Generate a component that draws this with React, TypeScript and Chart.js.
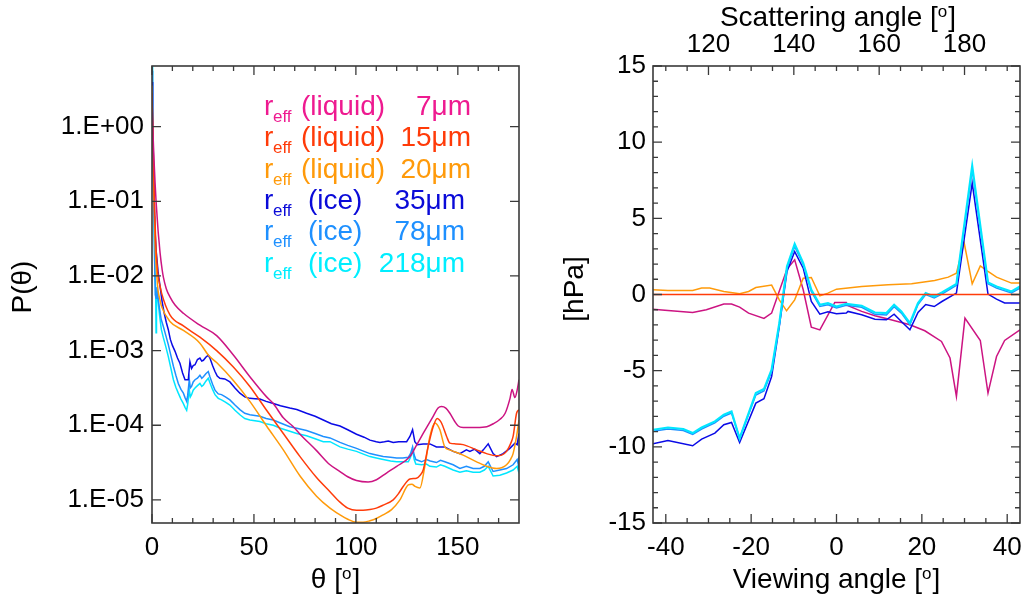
import React, { useEffect, useRef } from 'react';
import { Chart, registerables } from 'chart.js';

Chart.register(...registerables);

const FONT = "'Liberation Sans', Arial, Helvetica, sans-serif";

// ---------------- Left panel: phase function P(theta), log10 values ----------------
const liq7Theta = [0, 0.5, 1, 1.5, 2, 2.5, 3, 3.5, 4, 5, 5.6, 7, 8.8, 11.3, 15.4, 23.5, 31.7, 39.9, 48, 56.2, 59.5, 64.4, 69.3, 72.6, 80.7, 87.3, 92.2, 96, 100.3, 106, 110.1, 115, 120, 126.5, 129.7, 133, 137.9, 140.3, 142, 144.1, 146.1, 148.5, 150.2, 152.6, 159.2, 164.2, 167.4, 170.7, 173.2, 175.6, 176.6, 178, 179.1, 180];
const liq7LogP = [0.2, -0.1, -0.45, -0.75, -1.0, -1.2, -1.4, -1.55, -1.7, -1.92, -2.02, -2.17, -2.28, -2.39, -2.5, -2.66, -2.8, -3.06, -3.35, -3.62, -3.71, -3.9, -4.02, -4.12, -4.34, -4.53, -4.62, -4.69, -4.74, -4.76, -4.73, -4.64, -4.55, -4.42, -4.27, -4.11, -3.88, -3.77, -3.75, -3.77, -3.84, -3.95, -4.01, -4.03, -4.03, -4.02, -3.98, -3.92, -3.84, -3.64, -3.52, -3.63, -3.53, -3.39];

const liq15Theta = [0, 0.5, 1, 1.5, 2, 2.5, 3, 4, 4.7, 8.8, 15.4, 23.5, 31.7, 39.9, 48, 56.2, 64.4, 72.6, 80.7, 87.3, 92.2, 96, 100.3, 103.5, 106.9, 110, 113.4, 118.3, 120.8, 123.2, 126.5, 129.7, 131.5, 133, 135.4, 137.9, 139.9, 141, 142, 144.5, 146.1, 149, 152.6, 159.2, 164.1, 169, 171.5, 173.9, 176, 177.1, 178.8, 180];
const liq15LogP = [0.45, -0.2, -0.8, -1.3, -1.65, -1.85, -2.0, -2.14, -2.23, -2.52, -2.67, -2.82, -3.0, -3.22, -3.48, -3.8, -4.11, -4.42, -4.7, -4.89, -5.03, -5.11, -5.14, -5.14, -5.13, -5.11, -5.07, -5.0, -4.92, -4.82, -4.72, -4.71, -4.67, -4.6, -4.29, -4.02, -3.91, -3.93, -3.97, -4.15, -4.24, -4.25, -4.26, -4.33, -4.38, -4.41, -4.4, -4.35, -4.24, -4.15, -3.84, -3.79];

const liq20Theta = [0, 0.5, 1, 1.5, 2, 2.5, 3, 4, 4.7, 8.8, 15.4, 23.5, 27.6, 31.7, 39.9, 48, 56.2, 64.4, 72.6, 80.7, 87.3, 92.2, 96, 100.3, 103.5, 106.9, 110, 113.4, 117.5, 121.6, 125.7, 127.5, 129, 131.4, 133.8, 136.3, 138.7, 139.8, 141.2, 143.6, 146.1, 152.6, 159.2, 164.1, 169, 171.5, 173.9, 176, 177.1, 178.8, 180];
const liq20LogP = [0.55, -0.3, -1.0, -1.55, -1.85, -2.05, -2.2, -2.33, -2.41, -2.61, -2.73, -2.9, -3.06, -3.16, -3.4, -3.68, -4.01, -4.33, -4.68, -4.95, -5.11, -5.2, -5.26, -5.3, -5.3, -5.28, -5.25, -5.2, -5.13, -5.0, -4.8, -4.79, -4.82, -4.84, -4.55, -4.15, -3.97, -3.99, -4.06, -4.29, -4.33, -4.4, -4.49, -4.55, -4.58, -4.57, -4.53, -4.45, -4.38, -4.15, -3.93];

const ice35Theta = [0, 0.3, 0.7, 1.0, 1.5, 2, 2.5, 3, 4, 5, 6, 7, 8, 9, 10, 11.3, 12.5, 13.7, 15, 16.2, 17.8, 18.6, 19.4, 20.2, 21.1, 22.3, 23.5, 24.4, 25.2, 26.4, 27.6, 28.4, 29.7, 30.9, 32, 33.3, 35.7, 38.2, 40.7, 43.1, 45.5, 48, 50.5, 52.9, 56, 59.5, 63, 67.6, 71, 75.8, 80, 84, 88, 92.2, 96, 100.3, 104, 106.9, 110, 111.8, 114, 115.9, 118.3, 121, 124.9, 126.5, 127.8, 128.9, 130.1, 133, 136.3, 139.5, 143.6, 147.7, 151, 154.2, 155.9, 158.3, 160.8, 162.5, 164.9, 167.3, 169, 172.2, 175.5, 178, 179.1, 180];
const ice35LogP = [0.6, 0.2, -0.45, -0.9, -1.4, -1.65, -1.8, -1.95, -2.15, -2.35, -2.5, -2.62, -2.72, -2.85, -2.93, -3.01, -3.1, -3.17, -3.3, -3.39, -3.39, -3.15, -3.24, -3.2, -3.19, -3.12, -3.1, -3.14, -3.13, -3.09, -3.06, -3.1, -3.2, -3.28, -3.34, -3.37, -3.38, -3.42, -3.5, -3.57, -3.62, -3.64, -3.645, -3.65, -3.68, -3.71, -3.74, -3.77, -3.79, -3.84, -3.88, -3.93, -3.98, -4.01, -4.06, -4.12, -4.16, -4.2, -4.22, -4.23, -4.22, -4.21, -4.23, -4.22, -4.22, -4.15, -4.06, -4.22, -4.26, -4.25, -4.25, -4.29, -4.29, -4.35, -4.38, -4.33, -4.35, -4.32, -4.38, -4.33, -4.25, -4.38, -4.42, -4.38, -4.31, -4.24, -4.26, -4.11];

const ice78Theta = [0, 0.3, 0.6, 1.0, 1.3, 1.6, 2.0, 2.4, 2.8, 3.5, 4.5, 5.6, 6.8, 8.0, 9.3, 10.5, 11.7, 12.9, 14.2, 15.4, 16.2, 17.0, 17.5, 18.3, 18.8, 19.4, 20.2, 21.1, 22.3, 23.5, 24.4, 25.2, 26.4, 27.6, 28.4, 29.7, 30.9, 32.5, 34.1, 36, 38.2, 40.7, 43.1, 45.5, 48, 52.9, 56, 59.5, 63, 67.6, 71, 75.8, 80, 84, 87.3, 92.2, 96, 100.3, 104, 106.9, 110, 113.4, 117, 120, 123, 125.7, 126.8, 127.8, 128.6, 129.4, 132.2, 134.6, 136.5, 139.5, 141.5, 143.6, 147.7, 151, 154.2, 157.5, 160.8, 163, 164.9, 167.3, 170.6, 173.9, 177.1, 179.1, 179.6, 180];
const ice78LogP = [0.75, 0.3, -0.4, -1.2, -1.8, -2.25, -2.3, -2.15, -2.25, -2.4, -2.58, -2.68, -2.8, -2.92, -3.07, -3.21, -3.33, -3.44, -3.52, -3.57, -3.63, -3.68, -3.6, -3.39, -3.5, -3.48, -3.42, -3.39, -3.37, -3.33, -3.37, -3.35, -3.31, -3.28, -3.35, -3.45, -3.53, -3.58, -3.59, -3.62, -3.66, -3.73, -3.79, -3.84, -3.86, -3.88, -3.91, -3.93, -3.97, -4.02, -4.04, -4.07, -4.11, -4.15, -4.17, -4.23, -4.27, -4.31, -4.35, -4.38, -4.4, -4.42, -4.43, -4.44, -4.44, -4.43, -4.38, -4.29, -4.4, -4.46, -4.49, -4.46, -4.48, -4.5, -4.47, -4.49, -4.53, -4.58, -4.55, -4.58, -4.58, -4.55, -4.49, -4.62, -4.6, -4.58, -4.53, -4.46, -4.52, -4.42];

const ice218Theta = [0, 0.3, 0.6, 1.0, 1.4, 1.8, 2.0, 2.2, 2.6, 3.0, 3.8, 4.6, 5.6, 6.8, 8.0, 9.3, 10.5, 11.7, 12.9, 14.2, 15.4, 16.2, 17.0, 17.5, 18.3, 18.8, 19.4, 20.2, 21.1, 22.3, 23.5, 24.4, 25.2, 26.4, 27.6, 28.4, 29.7, 30.9, 32.5, 34.1, 36, 38.2, 40.7, 43.1, 45.5, 48, 52.9, 56, 59.5, 63, 67.6, 71, 75.8, 80, 84, 87.3, 92.2, 96, 100.3, 104, 106.9, 110, 113.4, 117, 120, 123, 125.7, 126.8, 127.8, 128.6, 129.4, 132.2, 134.6, 136.3, 139.5, 141.5, 143.6, 147.7, 151, 154.2, 157.5, 160.8, 163, 164.9, 167.3, 170.6, 173.9, 177.1, 179.1, 179.6, 180];
const ice218LogP = [0.85, 0.2, -0.6, -1.3, -1.9, -2.2, -2.76, -2.3, -2.2, -2.35, -2.55, -2.72, -2.83, -2.95, -3.08, -3.24, -3.39, -3.49, -3.57, -3.65, -3.71, -3.76, -3.8, -3.72, -3.53, -3.62, -3.59, -3.53, -3.5, -3.47, -3.44, -3.48, -3.46, -3.41, -3.37, -3.43, -3.52, -3.59, -3.64, -3.66, -3.69, -3.73, -3.8, -3.86, -3.91, -3.93, -3.95, -3.98, -4.0, -4.04, -4.08, -4.11, -4.14, -4.18, -4.22, -4.22, -4.29, -4.32, -4.35, -4.39, -4.42, -4.44, -4.46, -4.48, -4.49, -4.49, -4.49, -4.43, -4.33, -4.46, -4.52, -4.53, -4.52, -4.55, -4.56, -4.53, -4.55, -4.6, -4.63, -4.61, -4.63, -4.63, -4.6, -4.55, -4.68, -4.67, -4.64, -4.6, -4.55, -4.6, -4.49];

// ---------------- Right panel: difference [hPa] vs viewing angle ----------------
const liq7View = [-43, -39.5, -33.7, -30.5, -26.4, -24.6, -22.7, -20.6, -17.0, -15.2, -11.6, -9.8, -7.8, -5.9, -3.9, -0.4, 2.3, 2.7, 5.9, 9.0, 12.1, 15.2, 17.2, 20.7, 24.6, 26.6, 28.1, 30.1, 33.7, 35.5, 37.5, 39.4, 43];
const liq7Diff = [-0.96, -1.05, -1.18, -1.0, -0.63, -0.63, -0.83, -1.22, -1.57, -1.22, 1.67, 2.28, 0.31, -2.14, -2.32, -0.52, -0.52, -0.74, -1.11, -1.4, -1.61, -1.84, -1.99, -2.38, -3.08, -4.17, -6.69, -1.55, -3.02, -6.47, -4.07, -3.02, -2.32];

const liq15View = [-43, -20, 0, 20, 43];
const liq15Diff = [0, 0, 0, 0, 0];

const liq20View = [-43, -39.5, -33.7, -31.6, -29.7, -26.4, -22.7, -20.6, -18.9, -15.2, -13.4, -11.7, -9.8, -7.8, -5.9, -3.9, -2.0, 0, 5.9, 12.1, 17.6, 23.0, 26.2, 28.1, 29.9, 31.8, 33.7, 35.5, 37.5, 41.0, 43];
const liq20Diff = [0.31, 0.26, 0.26, 0.42, 0.42, 0.2, 0.05, 0.2, 0.46, 0.62, -0.35, -1.07, -0.35, 1.07, 1.12, -0.09, 0.09, 0.35, 0.52, 0.64, 0.7, 0.92, 1.14, 1.4, 3.41, 0.7, 1.88, 1.51, 1.14, 0.75, 0.75];

const ice35View = [-43, -39.5, -33.7, -31.6, -28.5, -26.4, -24.6, -22.7, -18.9, -17.0, -15.2, -13.4, -11.6, -9.8, -7.8, -5.9, -3.9, -2.0, 0, 2.3, 2.7, 5.9, 9.0, 11.7, 13.5, 15.2, 17.2, 19.1, 20.9, 22.9, 24.7, 28.1, 31.8, 35.5, 37.5, 39.4, 43];
const ice35Diff = [-9.8, -9.58, -9.93, -9.49, -9.1, -8.55, -8.4, -9.71, -7.13, -6.84, -5.38, -2.1, 1.51, 2.82, 1.73, -0.46, -1.29, -1.14, -1.27, -1.22, -1.11, -1.33, -1.62, -1.66, -1.29, -1.77, -2.32, -1.18, -0.66, -0.79, -0.46, 0.09, 7.31, 0.03, -0.3, -0.56, -0.56];

const ice78View = [-43, -39.5, -35.9, -33.7, -31.6, -28.5, -26.4, -24.6, -22.7, -18.9, -17.0, -15.2, -13.4, -11.6, -9.8, -7.8, -5.9, -3.9, -2.0, 0, 2.3, 5.9, 9.0, 11.7, 13.5, 15.2, 17.2, 19.1, 20.9, 22.9, 24.7, 28.1, 31.8, 35.5, 37.5, 41.0, 43];
const ice78Diff = [-8.98, -8.83, -8.93, -9.18, -8.83, -8.43, -7.99, -7.78, -9.42, -6.6, -6.33, -5.05, -1.98, 1.7, 3.15, 1.95, 0.2, -0.78, -0.67, -0.89, -0.71, -0.84, -1.3, -1.34, -0.8, -1.22, -1.98, -0.66, -0.01, -0.23, 0.03, 0.6, 8.2, 0.7, 0.42, 0.1, 0.42];

const ice218View = [-43, -39.5, -35.9, -33.7, -31.6, -28.5, -26.4, -24.6, -22.7, -18.9, -17.0, -15.2, -13.4, -11.6, -9.8, -7.8, -5.9, -3.9, -2.0, 0, 2.3, 5.9, 9.0, 11.7, 13.5, 15.2, 17.2, 19.1, 20.9, 22.9, 24.7, 28.1, 31.8, 35.5, 37.5, 41.0, 43];
const ice218Diff = [-8.88, -8.73, -8.83, -9.1, -8.73, -8.33, -7.89, -7.68, -9.45, -6.47, -6.21, -4.94, -1.88, 1.84, 3.31, 2.06, 0.31, -0.68, -0.57, -0.79, -0.61, -0.74, -1.18, -1.22, -0.68, -1.11, -1.88, -0.56, 0.09, -0.13, 0.13, 0.7, 8.44, 0.79, 0.52, 0.2, 0.52];

// ---------------- Labels, ticks, colours ----------------
const LEGEND_KIND = ['(liquid)', '(liquid)', '(liquid)', '(ice)', '(ice)', '(ice)'];
const LEGEND_SIZE = ['7μm', '15μm', '20μm', '35μm', '78μm', '218μm'];
const LINE_COLORS = ['#cc1482', '#ff3c0a', '#ff9a0a', '#0a0ae6', '#1e90ff', '#00e6ff'];
const TEXT_COLORS = ['#ee1a90', '#ff3a08', '#ff9a0a', '#0a0ad8', '#1e90ff', '#00eeff'];

const LEFT_X_TICKS = [0, 50, 100, 150];
const LEFT_Y_TICKS = [1e-5, 1e-4, 1e-3, 1e-2, 1e-1, 1];
const RIGHT_X_TICKS = [-40, -20, 0, 20, 40];
const RIGHT_TOP_TICKS = [120, 140, 160, 180];
const RIGHT_Y_TICKS = [-15, -10, -5, 0, 5, 10, 15];

const range = (a: number, b: number, s: number) => {
  const out: number[] = [];
  for (let v = a; v <= b + 1e-9; v += s) out.push(Math.round(v * 1000) / 1000);
  return out;
};

type TickSpec = { id: string; side: 'top' | 'bottom' | 'left' | 'right'; major: number[]; minor: number[] };

function drawSupTitle(ctx: CanvasRenderingContext2D, main: string, cx: number, baseline: number) {
  ctx.save();
  ctx.fillStyle = '#000';
  ctx.textBaseline = 'alphabetic';
  ctx.textAlign = 'left';
  const big = `28px ${FONT}`;
  const small = `17px ${FONT}`;
  ctx.font = big;
  const w1 = ctx.measureText(main + ' [').width;
  const w3 = ctx.measureText(']').width;
  ctx.font = small;
  const w2 = ctx.measureText('o').width;
  const total = w1 + w2 + w3 + 1;
  let x = cx - total / 2;
  ctx.font = big;
  ctx.fillText(main + ' [', x, baseline);
  x += w1;
  ctx.font = small;
  ctx.fillText('o', x, baseline - 9);
  x += w2 + 1;
  ctx.font = big;
  ctx.fillText(']', x, baseline);
  ctx.restore();
}

function makeFramePlugin(specs: TickSpec[], extra: (chart: any) => void) {
  return {
    id: 'frameTicks',
    afterDraw(chart: any) {
      const { ctx, chartArea: a } = chart;
      ctx.save();
      ctx.strokeStyle = '#3a3a3a';
      ctx.lineWidth = 1.3;
      ctx.beginPath();
      for (const s of specs) {
        const sc = chart.scales[s.id];
        const draw = (v: number, len: number) => {
          const p = sc.getPixelForValue(v);
          if (s.side === 'bottom' || s.side === 'top') {
            if (p < a.left - 0.5 || p > a.right + 0.5) return;
            const y0 = s.side === 'bottom' ? a.bottom : a.top;
            const dy = s.side === 'bottom' ? -len : len;
            ctx.moveTo(p, y0);
            ctx.lineTo(p, y0 + dy);
          } else {
            if (p < a.top - 0.5 || p > a.bottom + 0.5) return;
            const x0 = s.side === 'left' ? a.left : a.right;
            const dx = s.side === 'left' ? len : -len;
            ctx.moveTo(x0, p);
            ctx.lineTo(x0 + dx, p);
          }
        };
        s.minor.forEach((v) => draw(v, 5));
        s.major.forEach((v) => draw(v, 9));
      }
      ctx.stroke();
      ctx.lineWidth = 1.6;
      ctx.strokeRect(a.left, a.top, a.right - a.left, a.bottom - a.top);
      ctx.restore();
      extra(chart);
    },
  };
}

const tickFont = { family: FONT, size: 26 };

function expLabel(v: number) {
  const e = Math.round(Math.log10(v));
  const sign = e < 0 ? '-' : '+';
  const abs = Math.abs(e);
  return `1.E${sign}${abs < 10 ? '0' + abs : abs}`;
}

export default function App() {
  const leftRef = useRef<HTMLCanvasElement>(null);
  const rightRef = useRef<HTMLCanvasElement>(null);

  useEffect(() => {
    const leftSeries = [
      [liq7Theta, liq7LogP],
      [liq15Theta, liq15LogP],
      [liq20Theta, liq20LogP],
      [ice35Theta, ice35LogP],
      [ice78Theta, ice78LogP],
      [ice218Theta, ice218LogP],
    ];
    const rightSeries = [
      [liq7View, liq7Diff],
      [liq15View, liq15Diff],
      [liq20View, liq20Diff],
      [ice35View, ice35Diff],
      [ice78View, ice78Diff],
      [ice218View, ice218Diff],
    ];

    const leftDatasets = leftSeries.map(([xs, ys], i) => ({
      label: LEGEND_SIZE[i],
      data: xs.map((x, k) => ({ x, y: Math.pow(10, ys[k]) })),
      borderColor: LINE_COLORS[i],
      borderWidth: 1.5,
      pointRadius: 0,
      fill: false,
      tension: 0,
      cubicInterpolationMode: i < 3 ? 'monotone' : 'default',
      order: i,
    }));

    const rightDatasets = rightSeries.map(([xs, ys], i) => ({
      label: LEGEND_SIZE[i],
      data: xs.map((x, k) => ({ x, y: ys[k] })),
      borderColor: LINE_COLORS[i],
      borderWidth: i === 5 ? 2.2 : 1.5,
      pointRadius: 0,
      fill: false,
      tension: 0,
      order: i === 1 ? -1 : 6 - i,
    }));

    const leftExtra = (chart: any) => {
      const ctx = chart.ctx as CanvasRenderingContext2D;
      ctx.save();
      // legend
      const base0 = 115;
      const step = 31.3;
      for (let i = 0; i < 6; i++) {
        const b = base0 + i * step;
        ctx.fillStyle = TEXT_COLORS[i];
        ctx.textBaseline = 'alphabetic';
        ctx.textAlign = 'left';
        ctx.font = `28px ${FONT}`;
        ctx.fillText('r', 264, b);
        ctx.font = `17px ${FONT}`;
        ctx.fillText('eff', 273, b + 7);
        ctx.font = `28px ${FONT}`;
        const liquid = LEGEND_KIND[i] === '(liquid)';
        ctx.fillText(LEGEND_KIND[i], liquid ? 301 : 308, b);
        ctx.textAlign = 'right';
        ctx.fillText(LEGEND_SIZE[i], liquid ? 471 : 465, b);
      }
      // axis titles
      ctx.fillStyle = '#000';
      ctx.font = `28px ${FONT}`;
      ctx.textAlign = 'center';
      ctx.textBaseline = 'middle';
      ctx.translate(23, 287);
      ctx.rotate(-Math.PI / 2);
      ctx.fillText('P(θ)', 0, 0);
      ctx.restore();
      drawSupTitle(ctx, 'θ', 335.5, 588);
    };

    const rightExtra = (chart: any) => {
      const ctx = chart.ctx as CanvasRenderingContext2D;
      drawSupTitle(ctx, 'Viewing angle', 276.5, 588);
      drawSupTitle(ctx, 'Scattering angle', 278, 26);
      ctx.save();
      ctx.fillStyle = '#000';
      ctx.font = `28px ${FONT}`;
      ctx.textAlign = 'center';
      ctx.textBaseline = 'middle';
      ctx.translate(15, 289);
      ctx.rotate(-Math.PI / 2);
      ctx.fillText('[hPa]', 0, 0);
      ctx.restore();
    };

    const noGrid = { display: false, drawTicks: false };
    const noBorder = { display: false };

    const left = new Chart(leftRef.current as HTMLCanvasElement, {
      type: 'line',
      data: { datasets: leftDatasets as any },
      options: {
        animation: false,
        responsive: false,
        maintainAspectRatio: false,
        events: [],
        layout: { padding: { left: 0, top: 66, right: 41, bottom: 0 } },
        plugins: { legend: { display: false }, tooltip: { enabled: false } },
        scales: {
          x: {
            type: 'linear',
            min: 0,
            max: 180,
            position: 'bottom',
            grid: noGrid,
            border: noBorder,
            ticks: { font: tickFont, color: '#000', padding: 9, maxRotation: 0, autoSkip: false, callback: (v: any) => String(v) },
            afterBuildTicks: (s: any) => { s.ticks = LEFT_X_TICKS.map((value) => ({ value })); },
            afterFit: (s: any) => { s.height = 81; s.paddingLeft = 0; s.paddingRight = 0; },
          },
          y: {
            type: 'logarithmic',
            min: 4.9e-6,
            max: 6.5,
            position: 'left',
            grid: noGrid,
            border: noBorder,
            ticks: { font: tickFont, color: '#000', padding: 8, autoSkip: false, callback: (v: any) => expLabel(Number(v)) },
            afterBuildTicks: (s: any) => { s.ticks = LEFT_Y_TICKS.map((value) => ({ value })); },
            afterFit: (s: any) => { s.width = 152; s.paddingTop = 0; s.paddingBottom = 0; },
          },
        },
      } as any,
      plugins: [
        makeFramePlugin(
          [
            { id: 'x', side: 'bottom', major: LEFT_X_TICKS, minor: range(10, 170, 10) },
            { id: 'x', side: 'top', major: LEFT_X_TICKS, minor: range(10, 170, 10) },
            { id: 'y', side: 'left', major: LEFT_Y_TICKS, minor: [] },
            { id: 'y', side: 'right', major: LEFT_Y_TICKS, minor: [] },
          ],
          leftExtra
        ),
      ],
    });

    const right = new Chart(rightRef.current as HTMLCanvasElement, {
      type: 'line',
      data: { datasets: rightDatasets as any },
      options: {
        animation: false,
        responsive: false,
        maintainAspectRatio: false,
        events: [],
        layout: { padding: { left: 0, top: 0, right: 8, bottom: 0 } },
        plugins: { legend: { display: false }, tooltip: { enabled: false } },
        scales: {
          x: {
            type: 'linear',
            min: -43,
            max: 43,
            position: 'bottom',
            grid: noGrid,
            border: noBorder,
            ticks: { font: tickFont, color: '#000', padding: 9, maxRotation: 0, autoSkip: false, callback: (v: any) => String(v) },
            afterBuildTicks: (s: any) => { s.ticks = RIGHT_X_TICKS.map((value) => ({ value })); },
            afterFit: (s: any) => { s.height = 81; s.paddingLeft = 0; s.paddingRight = 0; },
          },
          x2: {
            type: 'linear',
            axis: 'x',
            min: 107,
            max: 193,
            position: 'top',
            grid: noGrid,
            border: noBorder,
            ticks: { font: tickFont, color: '#000', padding: 6, maxRotation: 0, autoSkip: false, callback: (v: any) => String(v) },
            afterBuildTicks: (s: any) => { s.ticks = RIGHT_TOP_TICKS.map((value) => ({ value })); },
            afterFit: (s: any) => { s.height = 66; s.paddingLeft = 0; s.paddingRight = 0; },
          },
          y: {
            type: 'linear',
            min: -15,
            max: 15,
            position: 'left',
            grid: noGrid,
            border: noBorder,
            ticks: { font: tickFont, color: '#000', padding: 7, autoSkip: false, callback: (v: any) => String(v) },
            afterBuildTicks: (s: any) => { s.ticks = RIGHT_Y_TICKS.map((value) => ({ value })); },
            afterFit: (s: any) => { s.width = 93; s.paddingTop = 0; s.paddingBottom = 0; },
          },
        },
      } as any,
      plugins: [
        makeFramePlugin(
          [
            { id: 'x', side: 'bottom', major: RIGHT_X_TICKS, minor: range(-40, 40, 5) },
            { id: 'x2', side: 'top', major: RIGHT_TOP_TICKS, minor: range(110, 190, 5) },
            { id: 'y', side: 'left', major: RIGHT_Y_TICKS, minor: range(-14, 14, 1) },
            { id: 'y', side: 'right', major: RIGHT_Y_TICKS, minor: range(-14, 14, 1) },
          ],
          rightExtra
        ),
      ],
    });

    return () => {
      left.destroy();
      right.destroy();
    };
  }, []);

  return (
    <div style={{ position: 'absolute', left: 0, top: 0, width: 1028, height: 604, background: '#fff', overflow: 'hidden' }}>
      <canvas ref={leftRef} width={560} height={604} style={{ position: 'absolute', left: 0, top: 0, width: 560, height: 604 }} />
      <canvas ref={rightRef} width={468} height={604} style={{ position: 'absolute', left: 560, top: 0, width: 468, height: 604 }} />
    </div>
  );
}
